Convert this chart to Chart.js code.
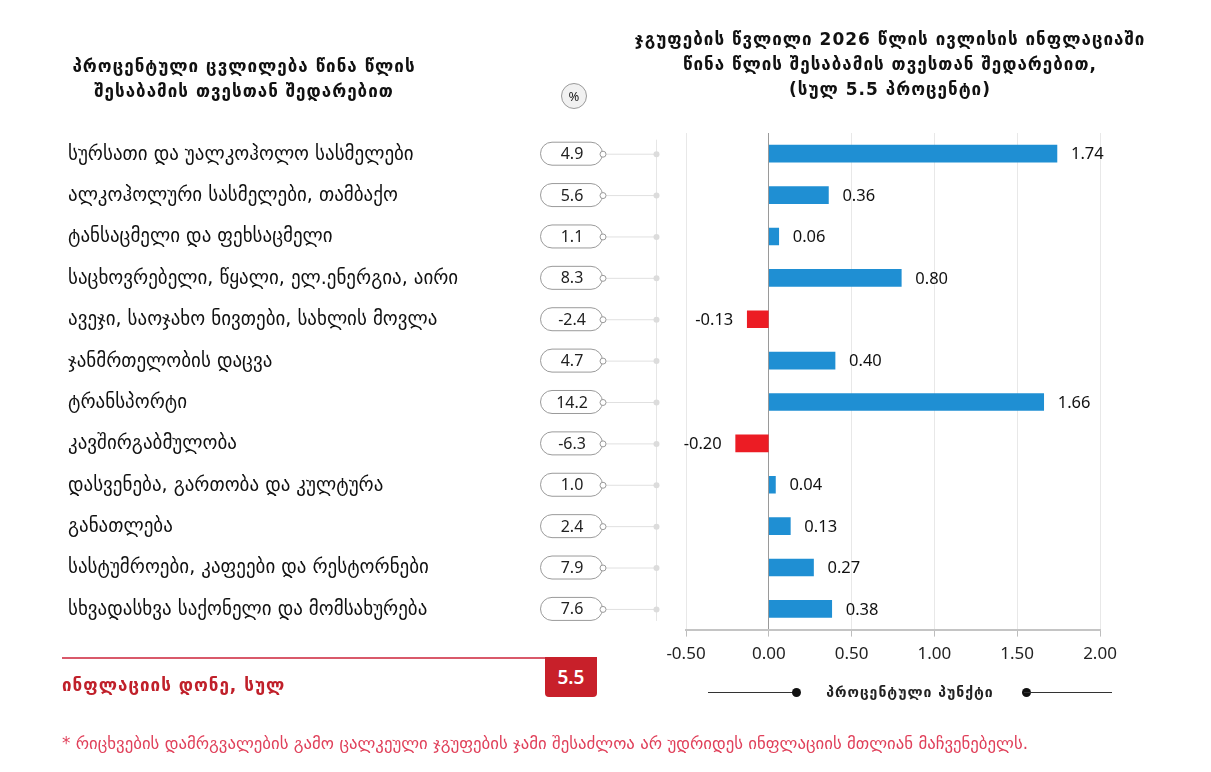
<!DOCTYPE html>
<html>
<head>
<meta charset="utf-8">
<script src="https://cdn.jsdelivr.net/npm/chart.js@4/dist/chart.umd.min.js"></script>
<style>
	html, body { margin: 0; padding: 0; background: #fff; }
	body { width: 1211px; height: 772px; position: relative; overflow: hidden; font-family: "Noto Sans", "DejaVu Sans", sans-serif; }
	#wrap { position: absolute; left: 0; top: 0; width: 1211px; height: 772px; }
	.title { position: absolute; font-family: "DejaVu Sans", sans-serif; font-weight: bold; font-size: 17px; letter-spacing: 1px; color: #111; text-align: center; line-height: 25px; }
	#titleLeft { left: 44px; top: 54px; width: 400px; }
	#titleRight { left: 620px; top: 27px; width: 540px; }
	#totalLabel { position: absolute; left: 62px; top: 675px; font-family: "DejaVu Sans", sans-serif; font-weight: bold; font-size: 17px; letter-spacing: 1px; color: #c0202a; }
	#totalLine { position: absolute; left: 62px; top: 657px; width: 484px; height: 2px; background: #d9596a; }
	#totalBox { position: absolute; left: 545px; top: 657px; width: 52px; height: 40px; background: #c8202a; color: #fff; font-size: 19px; font-weight: 600; text-align: center; line-height: 40px; border-radius: 0 0 4px 4px; }
	#unitLegend { position: absolute; left: 708px; top: 682px; width: 404px; height: 20px; }
	#unitLegend .ln { position: absolute; top: 10px; height: 1px; background: #333; width: 88px; }
	#unitLegend .dot { position: absolute; top: 6px; width: 9px; height: 9px; border-radius: 50%; background: #111; }
	#unitLegend .txt { position: absolute; left: 0; width: 404px; top: 0; text-align: center; font-family: "DejaVu Sans", sans-serif; font-size: 14px; letter-spacing: 1px; font-weight: bold; color: #222; line-height: 20px; }
	#note { position: absolute; left: 62px; top: 733px; font-family: "DejaVu Sans", sans-serif; font-size: 16.8px; color: #e0405a; }
	#pct { position: absolute; left: 561px; top: 83px; width: 26px; height: 26px; border-radius: 50%; background: #f1f1f1; border: 1px solid #999; box-sizing: border-box; text-align: center; line-height: 24px; font-size: 13px; color: #222; }
</style>
</head>
<body>
<div id="wrap"><canvas id="contribChart" width="1211" height="772"></canvas></div>
<div class="title" id="titleLeft">პროცენტული ცვლილება წინა წლის<br>შესაბამის თვესთან შედარებით</div>
<div class="title" id="titleRight">ჯგუფების წვლილი 2026 წლის ივლისის ინფლაციაში<br>წინა წლის შესაბამის თვესთან შედარებით,<br>(სულ 5.5 პროცენტი)</div>
<div id="pct">%</div>
<div id="totalLine"></div>
<div id="totalBox">5.5</div>
<div id="totalLabel">ინფლაციის დონე, სულ</div>
<div id="unitLegend">
	<div class="ln" style="left:0"></div><div class="dot" style="left:84px"></div>
	<div class="txt">პროცენტული პუნქტი</div>
	<div class="dot" style="left:314px"></div><div class="ln" style="left:316px"></div>
</div>
<div id="note">* რიცხვების დამრგვალების გამო ცალკეული ჯგუფების ჯამი შესაძლოა არ უდრიდეს ინფლაციის მთლიან მაჩვენებელს.</div>

<script>
var categories = [
	"სურსათი და უალკოჰოლო სასმელები",
	"ალკოჰოლური სასმელები, თამბაქო",
	"ტანსაცმელი და ფეხსაცმელი",
	"საცხოვრებელი, წყალი, ელ.ენერგია, აირი",
	"ავეჯი, საოჯახო ნივთები, სახლის მოვლა",
	"ჯანმრთელობის დაცვა",
	"ტრანსპორტი",
	"კავშირგაბმულობა",
	"დასვენება, გართობა და კულტურა",
	"განათლება",
	"სასტუმროები, კაფეები და რესტორნები",
	"სხვადასხვა საქონელი და მომსახურება"
];
var yearChange = [4.9, 5.6, 1.1, 8.3, -2.4, 4.7, 14.2, -6.3, 1.0, 2.4, 7.9, 7.6];
var contribution = [1.74, 0.36, 0.06, 0.80, -0.13, 0.40, 1.66, -0.20, 0.04, 0.13, 0.27, 0.38];
var xTicks = [-0.5, 0, 0.5, 1.0, 1.5, 2.0];

var barColors = [];
for (var i = 0; i < contribution.length; i++) {
	barColors.push(contribution[i] < 0 ? "#ec1c24" : "#1f8fd3");
}

// category names, the % pills and the value labels next to the bars
var sidePlugin = {
	id: "sideLabels",
	afterDatasetsDraw: function(chart) {
		var ctx = chart.ctx;
		var yScale = chart.scales.y;
		var meta = chart.getDatasetMeta(0);
		ctx.save();

		// light vertical rail for the pills
		var firstY = yScale.getPixelForValue(0);
		var lastY = yScale.getPixelForValue(categories.length - 1);
		ctx.strokeStyle = "#e6e6e6";
		ctx.lineWidth = 1;
		ctx.beginPath();
		ctx.moveTo(656.5, firstY - 14);
		ctx.lineTo(656.5, lastY + 12);
		ctx.stroke();

		for (var i = 0; i < categories.length; i++) {
			var y = yScale.getPixelForValue(i);

			ctx.fillStyle = "#111";
			ctx.font = "19px 'DejaVu Sans', sans-serif";
			ctx.textAlign = "left";
			ctx.textBaseline = "middle";
			ctx.fillText(categories[i], 68, y + 1);

			// connector
			ctx.strokeStyle = "#e0e0e0";
			ctx.beginPath();
			ctx.moveTo(606, y + 0.5);
			ctx.lineTo(656, y + 0.5);
			ctx.stroke();
			ctx.fillStyle = "#dcdcdc";
			ctx.beginPath();
			ctx.arc(656.5, y + 0.5, 3, 0, Math.PI * 2);
			ctx.fill();

			// pill
			ctx.fillStyle = "#fff";
			ctx.strokeStyle = "#9a9a9a";
			ctx.beginPath();
			ctx.roundRect(540.5, y - 11.5, 62, 23, 11.5);
			ctx.fill();
			ctx.stroke();
			ctx.beginPath();
			ctx.arc(603, y + 0.5, 3, 0, Math.PI * 2);
			ctx.fill();
			ctx.stroke();
			ctx.fillStyle = "#222";
			ctx.font = "16px 'Noto Sans', sans-serif";
			ctx.textAlign = "center";
			ctx.fillText(yearChange[i].toFixed(1), 572, y + 1);

			// value label at the bar end
			var bar = meta.data[i];
			var v = contribution[i];
			ctx.fillStyle = "#111";
			ctx.font = "16.5px 'Noto Sans', sans-serif";
			if (v < 0) {
				ctx.textAlign = "right";
				ctx.fillText(v.toFixed(2), bar.x - 14, y + 1);
			} else {
				ctx.textAlign = "left";
				ctx.fillText(v.toFixed(2), bar.x + 14, y + 1);
			}
		}
		ctx.restore();
	}
};

var contribChart = new Chart(
	document.getElementById("contribChart"),
	{
		type: "bar",
		data: {
			labels: categories,
			datasets: [
				{
					data: contribution,
					backgroundColor: barColors,
					barThickness: 17
				}
			]
		},
		options: {
			indexAxis: "y",
			responsive: false,
			animation: false,
			layout: { padding: { left: 686, right: 111, top: 133, bottom: 101 } },
			plugins: {
				legend: { display: false },
				tooltip: { enabled: false }
			},
			scales: {
				x: {
					min: -0.5,
					max: 2.0,
					afterBuildTicks: function(scale) {
						scale.ticks = xTicks.map(function(v) { return { value: v }; });
					},
					grid: {
						color: function(c) { return c.tick && c.tick.value === 0 ? "#9a9a9a" : "#e8e8e8"; },
						tickColor: "#bdbdbd",
						tickLength: 7
					},
					border: { color: "#c4c4c4", width: 2 },
					ticks: {
						color: "#222",
						padding: 7,
						font: { family: "'Noto Sans', sans-serif", size: 17 },
						callback: function(v) { return Number(v).toFixed(2); }
					}
				},
				y: {
					display: false
				}
			}
		},
		plugins: [sidePlugin]
	}
);
</script>
</body>
</html>
